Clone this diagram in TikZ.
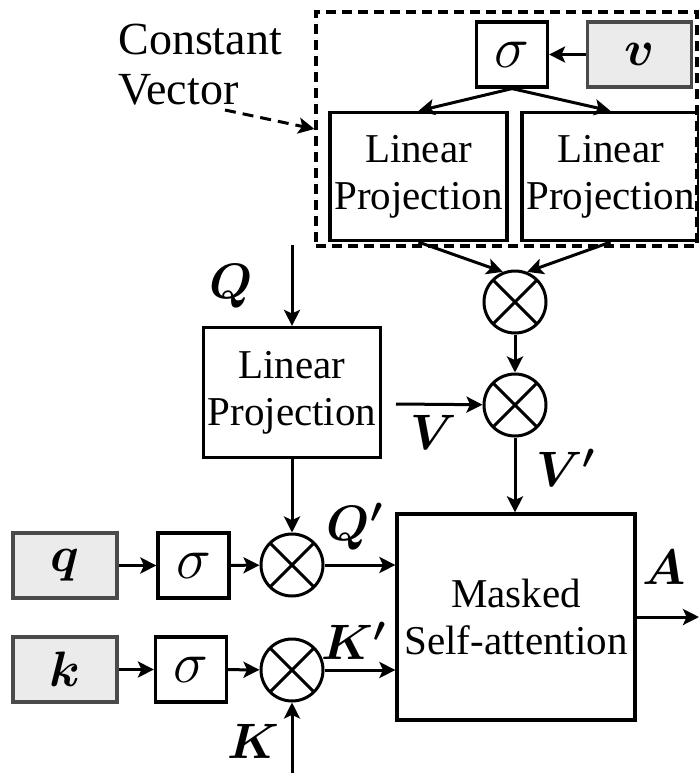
\documentclass[tikz,border=0pt]{standalone}
\usepackage{fontspec}
\setmainfont{Liberation Serif}
\usepackage{amsmath}
\usepackage{amssymb}
\usepackage{graphicx}
\usetikzlibrary{arrows.meta}
\definecolor{InGrey}{HTML}{EBEBEB}
\definecolor{InEdge}{HTML}{4A4A4A}
\newcommand{\sigmark}{\scalebox{1.18}{$\sigma$}}

\begin{document}
\begin{tikzpicture}[
  x=0.5pt, y=-0.5pt,
  block/.style={
    draw=black,
    line width=1.6pt,
    inner sep=0pt,
    align=center,
    font=\fontsize{20.5}{23.5}\selectfont
  },
  sigbox/.style={
    block,
    minimum width=35.5pt,
    minimum height=32.5pt,
    font=\fontsize{25}{28}\selectfont
  },
  inbox/.style={
    sigbox,
    draw=InEdge,
    fill=InGrey,
    minimum width=52pt
  },
  proj/.style={
    block,
    minimum width=88.5pt,
    minimum height=64pt
  },
  mul/.style={
    circle,
    draw,
    line width=1.5pt,
    minimum size=31pt,
    inner sep=0pt,
    path picture={
      \draw[line width=1.5pt]
        (path picture bounding box.north west) -- (path picture bounding box.south east)
        (path picture bounding box.south west) -- (path picture bounding box.north east);
    }
  },
  sym/.style={inner sep=0pt, font=\fontsize{25}{28}\selectfont},
  flow/.style={-{Stealth[length=8pt,width=8pt,inset=1.8pt]},line width=1.5pt},
  dashflow/.style={flow,dash pattern=on 5.5pt off 3.5pt}
]
  \useasboundingbox (0,0) rectangle (699,773);

  % constant vector branch
  \node[draw, line width=1.6pt, dash pattern=on 5pt off 3pt, inner sep=0pt,
        minimum width=190.5pt, minimum height=117pt] (const) at (506.5,129) {};
  \node[sigbox] (sigv) at (512,54.5) {\sigmark};
  \node[inbox] (vin) at (639.5,54.5) {$\boldsymbol{v}$};
  \node[proj] (lpa) at (418.5,176.5) {Linear\\Projection};
  \node[proj] (lpb) at (610.5,176.5) {Linear\\Projection};
  \node[mul] (mula) at (515,302) {};
  \node[mul] (mulb) at (515,405) {};

  \node[inner sep=0pt, anchor=north west, align=left,
        font=\fontsize{23}{25}\selectfont] (cvlabel) at (118,24) {Constant\\Vector};
  \coordinate (cvtail) at (225,110);

  % query / key branch
  \node[proj, minimum height=65pt] (lpq) at (292,392.5) {Linear\\Projection};
  \node[mul] (mulq) at (292,565) {};
  \node[mul] (mulk) at (292,670) {};
  \node[inbox] (qin) at (65,565.5) {$\boldsymbol{q}$};
  \node[sigbox] (sigq) at (193.5,565.5) {\sigmark};
  \node[inbox] (kin) at (65,669.5) {$\boldsymbol{k}$};
  \node[sigbox] (sigk) at (191,669.5) {\sigmark};
  \node[block, minimum width=119pt, minimum height=103pt] (msa) at (516,617) {Masked\\Self-attention};

  \coordinate (qtop) at (292,245);
  \coordinate (vtail) at (396,404);
  \coordinate (ktail) at (292,773);
  \coordinate (aend) at (699,617);

  % labels
  \node[sym] (lq) at (231,286) {$\boldsymbol{Q}$};
  \node[sym] (lv) at (434,432) {$\boldsymbol{V}$};
  \node[sym] (lvp) at (566,468) {$\boldsymbol{V'}$};
  \node[sym] (lqp) at (355,527) {$\boldsymbol{Q'}$};
  \node[sym] (lkp) at (354,641) {$\boldsymbol{K'}$};
  \node[sym] (lk) at (253,741) {$\boldsymbol{K}$};
  \node[sym] (la) at (664,567) {$\boldsymbol{A}$};

  % connectors
  \draw[flow] (vin) -- (sigv);
  \draw[flow] (sigv.south) -- (lpa.north);
  \draw[flow] (sigv.south) -- (lpb.north);
  \draw[flow] (lpa.south) -- (mula.112);
  \draw[flow] (lpb.south) -- (mula.68);
  \draw[flow] (mula) -- (mulb);
  \draw[flow] (vtail) -- (mulb);
  \draw[flow] (mulb.south) -- (mulb.south |- msa.north);
  \draw[dashflow] (cvtail) -- (const.west);

  \draw[flow] (qtop) -- (lpq);
  \draw[flow] (lpq) -- (mulq);
  \draw[flow] (qin) -- (sigq);
  \draw[flow] (sigq) -- (mulq);
  \draw[flow] (mulq) -- (mulq -| msa.west);
  \draw[flow] (kin) -- (sigk);
  \draw[flow] (sigk) -- (mulk);
  \draw[flow] (mulk) -- (mulk -| msa.west);
  \draw[flow] (ktail) -- (mulk);
  \draw[flow] (msa.east) -- (aend);
\end{tikzpicture}
\end{document}
